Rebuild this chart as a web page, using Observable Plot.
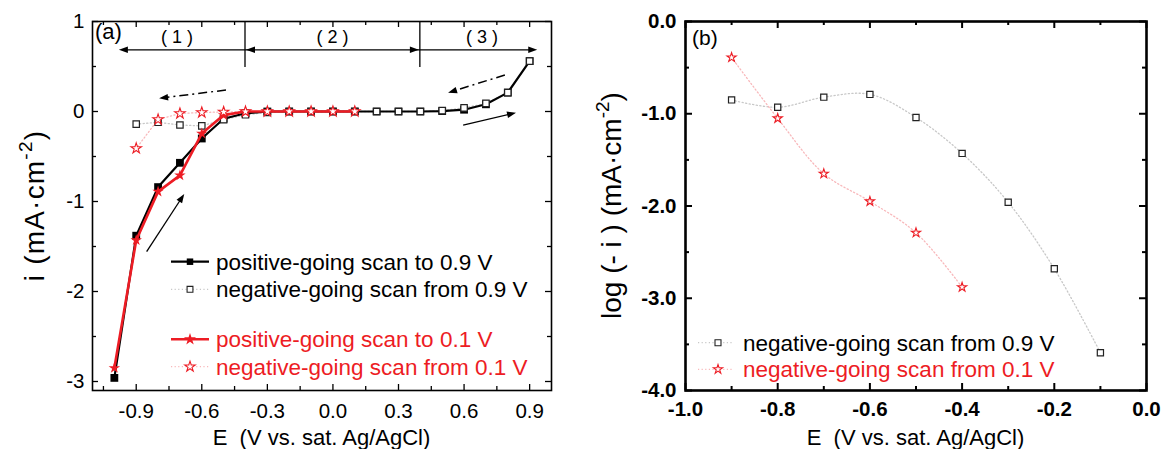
<!DOCTYPE html>
<html><head><meta charset="utf-8">
<script src="https://cdn.jsdelivr.net/npm/d3@7"></script>
<script src="https://cdn.jsdelivr.net/npm/@observablehq/plot@0.6"></script>
<style>
html,body{margin:0;padding:0;background:#fff;}
#wrap{position:relative;width:1164px;height:449px;overflow:hidden;background:#fff;}
#wrap svg{position:absolute;top:0;}
</style></head><body><div id="wrap"></div>
<script>
// ---------- data : panel (a) ----------
const E_pos09 = [-1.0,-0.9,-0.8,-0.7,-0.6,-0.5,-0.4,-0.3,-0.2,-0.1,0.0,0.1,0.2,0.3,0.4,0.5,0.6,0.7,0.8,0.9];
const i_pos09 = [-2.96,-1.38,-0.84,-0.57,-0.30,-0.08,-0.02,0,0,0,0,0,0,0,0,0.005,0.02,0.08,0.21,0.56];
const E_neg09 = [0.9,0.8,0.7,0.6,0.5,0.4,0.3,0.2,0.1,0.0,-0.1,-0.2,-0.3,-0.4,-0.5,-0.6,-0.7,-0.8,-0.9];
const i_neg09 = [0.56,0.21,0.09,0.04,0.01,0,0,0,0,0,0,0,-0.01,-0.037,-0.09,-0.16,-0.15,-0.12,-0.14];
const E_pos01 = [-1.0,-0.9,-0.8,-0.7,-0.6,-0.5,-0.4,-0.3,-0.2,-0.1,0.0,0.1];
const i_pos01 = [-2.85,-1.43,-0.89,-0.71,-0.245,-0.04,0,0,0,0,0,0];
const E_neg01 = [0.1,0.0,-0.1,-0.2,-0.3,-0.4,-0.5,-0.6,-0.7,-0.8,-0.9];
const i_neg01 = [0,0,0,0,0,-0.001,-0.005,-0.011,-0.022,-0.089,-0.41];
// ---------- data : panel (b) ----------
const E_log09 = [-0.9,-0.8,-0.7,-0.6,-0.5,-0.4,-0.3,-0.2,-0.1];
const log_neg09 = [-0.85,-0.93,-0.82,-0.79,-1.04,-1.43,-1.96,-2.68,-3.59];
const E_log01 = [-0.9,-0.8,-0.7,-0.6,-0.5,-0.4];
const log_neg01 = [-0.39,-1.05,-1.65,-1.95,-2.29,-2.88];
// ---------- ticks & texts ----------
const aXTicks = [-0.9,-0.6,-0.3,0,0.3,0.6,0.9];
const aXTickLabels = ["-0.9","-0.6","-0.3","0.0","0.3","0.6","0.9"];
const aXMinor = [-1.05,-0.75,-0.45,-0.15,0.15,0.45,0.75];
const aYTicks = [1,0,-1,-2,-3];
const aYTickLabels = ["1","0","-1","-2","-3"];
const aYMinor = [0.5,-0.5,-1.5,-2.5];
const bXTicks = [-1.0,-0.8,-0.6,-0.4,-0.2,0.0];
const bXTickLabels = ["-1.0","-0.8","-0.6","-0.4","-0.2","0.0"];
const bXMinor = [-0.9,-0.7,-0.5,-0.3,-0.1];
const bYTicks = [0,-1,-2,-3,-4];
const bYTickLabels = ["0.0","-1.0","-2.0","-3.0","-4.0"];
const bYMinor = [-0.5,-1.5,-2.5,-3.5];
const legendA = ["positive-going scan to 0.9 V","negative-going scan from 0.9 V","positive-going scan to 0.1 V","negative-going scan from 0.1 V"];
const legendB = ["negative-going scan from 0.9 V","negative-going scan from 0.1 V"];
const regionLabels = ["( 1 )","( 2 )","( 3 )"];
const xLabel = "E  (V vs. sat. Ag/AgCl)";
const yLabelA = ["i (mA·cm", "-2", ")"];
const yLabelB = ["log (- i ) (mA·cm", "-2", ")"];
const panelLabels = ["(a)", "(b)"];

const RED = "#ed1c24";
const GREY_DOT = "#c8c8c8", PINK_DOT = "#f8b8bb";
const FONT = "'Liberation Sans', Arial, Helvetica, sans-serif";
const zip = (xs, ys) => xs.map((x, k) => ({E: x, v: ys[k]}));
const pos09 = zip(E_pos09, i_pos09), neg09 = zip(E_neg09, i_neg09);
const pos01 = zip(E_pos01, i_pos01), neg01 = zip(E_neg01, i_neg01);
const lg09 = zip(E_log09, log_neg09), lg01 = zip(E_log01, log_neg01);

function tickMarks(xMaj, xMin, yMaj, yMin, fw, fh, lMaj, lMin, sw) {
  const m = [];
  for (const [xs, len] of [[xMaj, lMaj], [xMin, lMin]]) {
    m.push(Plot.ruleX(xs, {x: d => d, insetTop: fh - len, stroke: "black", strokeWidth: sw}));
    m.push(Plot.ruleX(xs, {x: d => d, insetBottom: fh - len, stroke: "black", strokeWidth: sw}));
  }
  for (const [ys, len] of [[yMaj, lMaj], [yMin, lMin]]) {
    m.push(Plot.ruleY(ys, {y: d => d, insetRight: fw - len, stroke: "black", strokeWidth: sw}));
    m.push(Plot.ruleY(ys, {y: d => d, insetLeft: fw - len, stroke: "black", strokeWidth: sw}));
  }
  return m;
}

// ---------------- Panel (a) ----------------
const WA = 580, HA = 449, mlA = 92, mrA = 29, mt = 21, mb = 59;
const plotA = Plot.plot({
  width: WA, height: HA,
  marginLeft: mlA, marginRight: mrA, marginTop: mt, marginBottom: mb,
  x: {domain: [-1.1, 1.0], axis: null},
  y: {domain: [-3.1, 1.0], axis: null},
  style: {fontFamily: FONT, color: "black", background: "white", overflow: "visible"},
  marks: [
    ...tickMarks(aXTicks, aXMinor, aYTicks, aYMinor, WA - mlA - mrA, HA - mt - mb, 6, 4, 1.3),
    Plot.line(neg09, {x: "E", y: "v", stroke: GREY_DOT, strokeWidth: 1.3, strokeDasharray: "1.2,2.4"}),
    Plot.line(neg01, {x: "E", y: "v", stroke: PINK_DOT, strokeWidth: 1.3, strokeDasharray: "1.2,2.4"}),
    Plot.line(pos09, {x: "E", y: "v", stroke: "black", strokeWidth: 2.2}),
    Plot.dot(pos09, {x: "E", y: "v", symbol: "square", r: 4.4, fill: "black", stroke: "none"}),
    Plot.dot(neg09, {x: "E", y: "v", symbol: "square", r: 3.6, fill: "white", stroke: "#222", strokeWidth: 1.2}),
    Plot.line(pos01, {x: "E", y: "v", stroke: RED, strokeWidth: 2.6}),
    Plot.dot(pos01, {x: "E", y: "v", symbol: "star", r: 3.6, fill: RED, stroke: "none"}),
    Plot.dot(neg01, {x: "E", y: "v", symbol: "star", r: 3.3, fill: "white", stroke: RED, strokeWidth: 1.1}),
    Plot.frame({stroke: "black", strokeWidth: 1.6}),
    Plot.text(aXTicks, {x: d => d, text: (d, k) => aXTickLabels[k], frameAnchor: "bottom", dy: 21, lineAnchor: "middle", fontSize: 20.5, fill: "black"}),
    Plot.text(aYTicks, {y: d => d, text: (d, k) => aYTickLabels[k], frameAnchor: "left", dx: -8, textAnchor: "end", lineAnchor: "middle", fontSize: 20.5, fill: "black"})
  ]
});
plotA.style.left = "0px";
document.getElementById("wrap").appendChild(plotA);

// ---------------- Panel (b) ----------------
const WB = 584, mlB = 105, mrB = 18;
const plotB = Plot.plot({
  width: WB, height: HA,
  marginLeft: mlB, marginRight: mrB, marginTop: mt, marginBottom: mb,
  x: {domain: [-1.0, 0.0], axis: null},
  y: {domain: [-4.0, 0.0], axis: null},
  style: {fontFamily: FONT, color: "black", background: "white", overflow: "visible"},
  marks: [
    ...tickMarks(bXTicks, bXMinor, bYTicks, bYMinor, WB - mlB - mrB, HA - mt - mb, 7, 4, 2),
    Plot.line(lg09, {x: "E", y: "v", curve: "catmull-rom", stroke: GREY_DOT, strokeWidth: 1.3, strokeDasharray: "1.2,2.4"}),
    Plot.line(lg01, {x: "E", y: "v", curve: "catmull-rom", stroke: PINK_DOT, strokeWidth: 1.3, strokeDasharray: "1.2,2.4"}),
    Plot.dot(lg09, {x: "E", y: "v", symbol: "square", r: 3.5, fill: "white", stroke: "#222", strokeWidth: 1.2}),
    Plot.dot(lg01, {x: "E", y: "v", symbol: "star", r: 2.9, fill: "white", stroke: RED, strokeWidth: 1.1}),
    Plot.frame({stroke: "black", strokeWidth: 2.6}),
    Plot.text(bXTicks, {x: d => d, text: (d, k) => bXTickLabels[k], frameAnchor: "bottom", dy: 19, lineAnchor: "middle", fontSize: 20.5, fontWeight: "bold", fill: "black"}),
    Plot.text(bYTicks, {y: d => d, text: (d, k) => bYTickLabels[k], frameAnchor: "left", dx: -9, textAnchor: "end", lineAnchor: "middle", fontSize: 20.5, fontWeight: "bold", fill: "black"})
  ]
});
plotB.style.left = WA + "px";
document.getElementById("wrap").appendChild(plotB);

// ---------------- annotations ----------------
function head(g, tx, ty, ux, uy, hl = 9, hw = 3.3) {
  const bx = tx - ux * hl, by = ty - uy * hl;
  g.append("path").attr("d", `M${tx},${ty}L${bx - uy * hw},${by + ux * hw}L${bx + uy * hw},${by - ux * hw}Z`).attr("fill", "black");
}
function arrow(g, x1, y1, x2, y2, dash, sw) {
  const dx = x2 - x1, dy = y2 - y1, L = Math.hypot(dx, dy), ux = dx / L, uy = dy / L;
  g.append("line").attr("x1", x1).attr("y1", y1).attr("x2", x2 - ux * 6).attr("y2", y2 - uy * 6)
    .attr("stroke", "black").attr("stroke-width", sw).attr("stroke-dasharray", dash || null);
  head(g, x2, y2, ux, uy);
}
function addText(g, x, y, txt, size, opts = {}) {
  const t = g.append("text").attr("x", x).attr("y", y).attr("font-family", FONT).attr("font-size", size)
    .attr("fill", opts.fill || "black").attr("text-anchor", opts.anchor || "start")
    .style("white-space", "pre");
  if (opts.weight) t.attr("font-weight", opts.weight);
  t.text(txt);
  return t;
}
function supLabel(g, x, y, parts, size, spacing) {
  const t = g.append("text").attr("transform", `translate(${x},${y}) rotate(-90)`).attr("font-family", FONT)
    .attr("font-size", size).attr("text-anchor", "middle").attr("fill", "black").style("white-space", "pre");
  if (spacing) t.attr("letter-spacing", spacing);
  t.append("tspan").text(parts[0]);
  t.append("tspan").attr("font-size", size * 0.68).attr("dy", -size * 0.42).text(parts[1]);
  t.append("tspan").attr("dy", size * 0.42).text(parts[2]);
}

{
  const svg = d3.select(plotA), g = svg.append("g");
  const sx = plotA.scale("x"), sy = plotA.scale("y");
  const X = v => sx.apply(v), Y = v => sy.apply(v);
  // region bar
  const yb = Y(0.68);
  g.append("line").attr("x1", X(-0.977) + 4).attr("x2", X(0.937) - 4).attr("y1", yb).attr("y2", yb).attr("stroke", "black").attr("stroke-width", 1.3);
  head(g, X(-0.977), yb, -1, 0);
  head(g, X(-0.4) + 1, yb, -1, 0);
  head(g, X(0.4) - 1, yb, 1, 0);
  head(g, X(0.937), yb, 1, 0);
  for (const v of [-0.4, 0.4]) g.append("line").attr("x1", X(v)).attr("x2", X(v)).attr("y1", Y(1.0)).attr("y2", Y(0.49)).attr("stroke", "black").attr("stroke-width", 1.3);
  [-0.711, 0.0, 0.684].forEach((v, k) => addText(g, X(v), Y(0.76), regionLabels[k], 18, {anchor: "middle"}));
  addText(g, 95, 39, panelLabels[0], 22);
  // direction arrows
  arrow(g, X(-0.487), Y(0.233), X(-0.793), Y(0.141), "9,4,2,4", 1.5);
  arrow(g, X(0.789), Y(0.40), X(0.529), Y(0.203), "9,4,2,4", 1.5);
  arrow(g, X(0.598), Y(-0.156), X(0.840), Y(-0.019), null, 1.3);
  arrow(g, X(-0.85), Y(-1.563), X(-0.678), Y(-0.922), null, 1.3);
  // legend
  const rows = [261.7, 289.3, 339.3, 366.7];
  const cols = ["black", "black", RED, RED];
  const lx1 = 171, lx2 = 209, lm = 190, lt = 216;
  rows.forEach((ry, k) => {
    const solid = k % 2 === 0;
    g.append("line").attr("x1", lx1).attr("x2", lx2).attr("y1", ry).attr("y2", ry)
      .attr("stroke", solid ? cols[k] : (k === 1 ? GREY_DOT : PINK_DOT))
      .attr("stroke-width", solid ? (k === 0 ? 2.2 : 2.6) : 1.3)
      .attr("stroke-dasharray", solid ? null : "1.2,2.4");
    const sym = k < 2 ? d3.symbolSquare : d3.symbolStar;
    const size = k === 0 ? 42 : k === 1 ? 34 : k === 2 ? 45 : 34;
    g.append("path").attr("d", d3.symbol(sym, size)()).attr("transform", `translate(${lm},${ry})`)
      .attr("fill", solid ? cols[k] : "white").attr("stroke", solid ? "none" : (k === 1 ? "#222" : RED)).attr("stroke-width", 1.1);
    addText(g, lt, ry + 7.8, legendA[k], 22.5, {fill: cols[k]});
  });
  // axis labels
  addText(g, (mlA + WA - mrA) / 2, 444.5, xLabel, 22, {anchor: "middle"});
  supLabel(g, 43.5, (mt + HA - mb) / 2, yLabelA, 28, 1.2);
}
{
  const svg = d3.select(plotB), g = svg.append("g");
  addText(g, 692 - WA, 45, panelLabels[1], 21);
  const rows = [342.7, 369.3];
  const cols = ["black", RED];
  rows.forEach((ry, k) => {
    g.append("line").attr("x1", 698 - WA).attr("x2", 734 - WA).attr("y1", ry).attr("y2", ry)
      .attr("stroke", k === 0 ? GREY_DOT : PINK_DOT).attr("stroke-width", 1.3).attr("stroke-dasharray", "1.2,2.4");
    g.append("path").attr("d", d3.symbol(k === 0 ? d3.symbolSquare : d3.symbolStar, k === 0 ? 36 : 26)())
      .attr("transform", `translate(${718 - WA},${ry})`).attr("fill", "white").attr("stroke", k === 0 ? "#222" : RED).attr("stroke-width", 1.1);
    addText(g, 743 - WA, ry + 7.8, legendB[k], 22.5, {fill: cols[k]});
  });
  addText(g, (mlB + WB - mrB) / 2, 444.5, xLabel, 22, {anchor: "middle"});
  supLabel(g, 620.5 - WA, (mt + HA - mb) / 2, yLabelB, 28);
}
</script></body></html>
